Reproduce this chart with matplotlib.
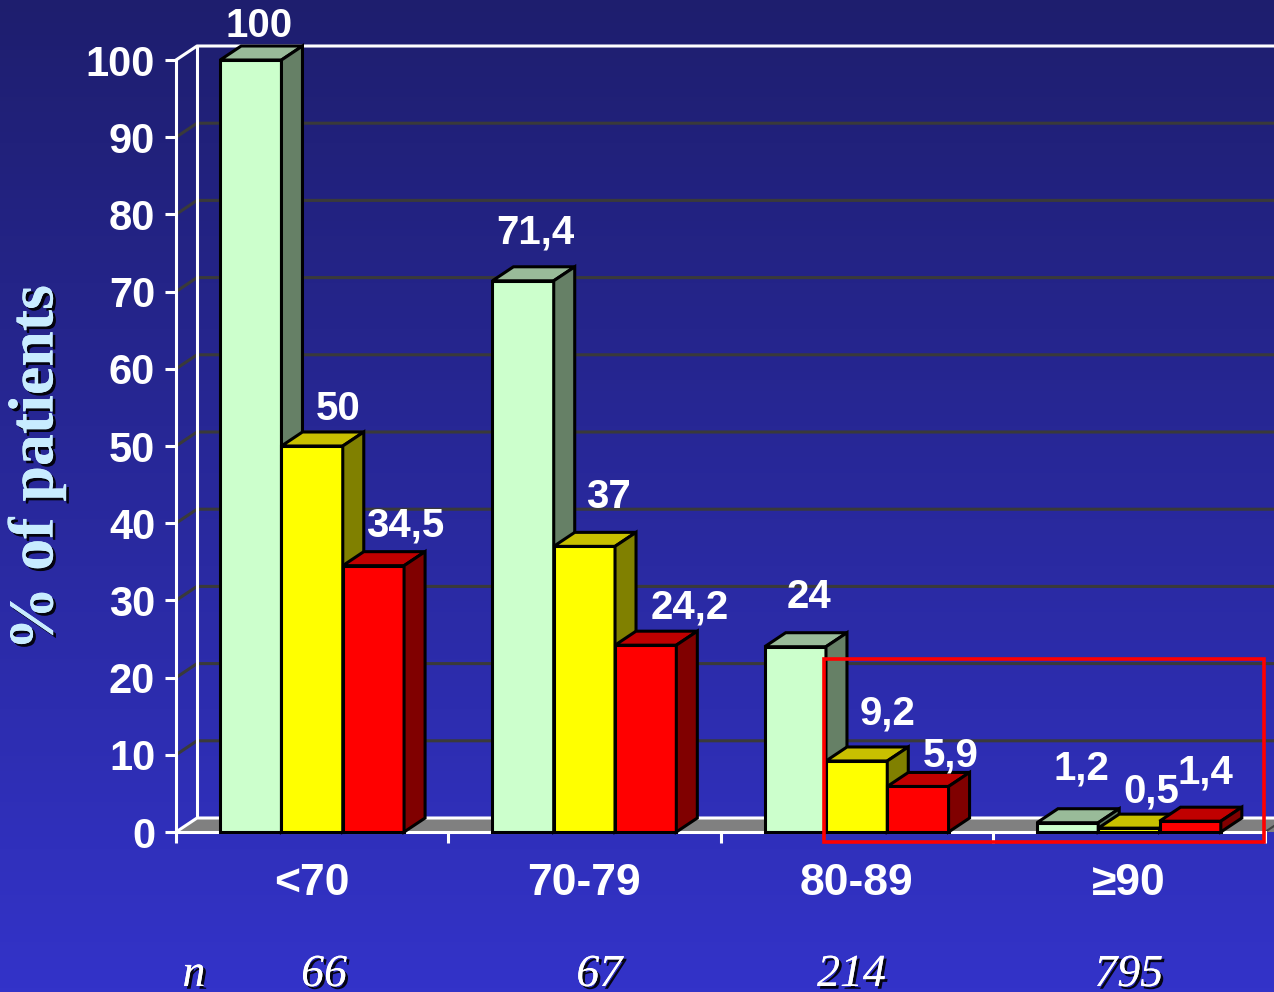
import numpy as np
import matplotlib.pyplot as plt
import matplotlib.patheffects as pe
from matplotlib.patches import Polygon, Rectangle

# age groups and the three series (% of patients)
groups = ['<70', '70-79', '80-89', '≥90']
n_patients = ['66', '67', '214', '795']
green_vals = [100, 71.4, 24, 1.2]
yellow_vals = [50, 37, 9.2, 0.5]
red_vals = [34.5, 24.2, 5.9, 1.4]
y_ticks = [0, 10, 20, 30, 40, 50, 60, 70, 80, 90, 100]

# label nudges in pixels (dx, dy) from the front top centre of each bar
label_shift = [
    [(8, 23), (12, 37), (14, 39), (14, 43)],
    [(26, 26), (24, 38), (31, 36), (22, 26)],
    [(32, 29), (44, 27), (33, 20), (15, 38)],
]
n_shift = [12, 15, -5, 0]

W, H = 1274, 992
fig = plt.figure(figsize=(W / 100, H / 100), dpi=100)

# dark-to-bright blue background
bg = fig.add_axes([0, 0, 1, 1], zorder=0)
top = np.array([30, 30, 110]) / 255
bot = np.array([51, 51, 201]) / 255
t = np.linspace(0, 1, 256)[:, None]
grad = (top * (1 - t) + bot * t)[:, None, :]
bg.imshow(grad, aspect='auto', extent=[0, 1, 0, 1])
bg.axis('off')

ax = fig.add_axes([176 / W, 160 / H, 1089 / W, 772 / H], zorder=1)
ax.patch.set_visible(False)
ax.set_xlim(0, 4)
ax.set_ylim(0, 100)

# 3d depth, in data units
px_x = 1089 / 4
px_y = 772 / 100
DX = 21 / px_x
DY = 14 / px_y
xr = 4.2

# back wall gridlines with the diagonal on the side wall
for v in y_ticks[1:-1]:
    ax.plot([0, DX, xr], [v, v + DY, v + DY], color='#3a3a3a', lw=2.2,
            clip_on=False, zorder=1, solid_capstyle='butt')
ax.plot([0, DX, xr], [100, 100 + DY, 100 + DY], color='white', lw=2.2,
        clip_on=False, zorder=1)
ax.plot([DX, DX], [DY, 100 + DY], color='white', lw=2.2, clip_on=False, zorder=1)

# floor
ax.add_patch(Polygon([(0, 0), (DX, DY), (xr, DY), (xr, 0)], closed=True,
                     facecolor='#808080', edgecolor='none', clip_on=False, zorder=1))
ax.plot([0, DX, xr], [0, DY, DY], color='white', lw=2.2, clip_on=False, zorder=1)
ax.plot([4, 4 + DX], [0, DY], color='#404040', lw=1.5, clip_on=False, zorder=1)

# bars
bw = 61.3 / px_x
gap = (1 - 3 * bw) / 2
series = [
    (green_vals, '#ccffcc', '#99bb99', '#668066'),
    (yellow_vals, '#ffff00', '#c8c000', '#808000'),
    (red_vals, '#ff0000', '#c00000', '#800000'),
]
for g in range(len(groups)):
    for k, (vals, front, topc, side) in enumerate(series):
        v = vals[g]
        x0 = g + gap + k * bw
        x1 = x0 + bw
        kw = dict(edgecolor='black', lw=2.2, joinstyle='miter', clip_on=False, zorder=3)
        ax.add_patch(Rectangle((x0, 0), bw, v, facecolor=front, **kw))
        ax.add_patch(Polygon([(x0, v), (x0 + DX, v + DY), (x1 + DX, v + DY), (x1, v)],
                             closed=True, facecolor=topc, **kw))
        ax.add_patch(Polygon([(x1, 0), (x1 + DX, DY), (x1 + DX, v + DY), (x1, v)],
                             closed=True, facecolor=side, **kw))
        txt = f'{v:g}'.replace('.', ',')
        ax.annotate(txt, xy=(x0 + bw / 2, v), xytext=label_shift[k][g],
                    textcoords='offset pixels', ha='center', va='baseline',
                    color='white', fontsize=29, fontweight='bold',
                    family='Liberation Sans', zorder=5, annotation_clip=False)

# highlight box around the two oldest groups
ax.add_patch(Rectangle((2.38, -1.3), 1.616, 23.7, fill=False, edgecolor='#ff0000',
                       lw=2.6, clip_on=False, zorder=6))

# axes
for s in ['top', 'right']:
    ax.spines[s].set_visible(False)
for s in ['left', 'bottom']:
    ax.spines[s].set_color('white')
    ax.spines[s].set_linewidth(2.2)
    ax.spines[s].set_zorder(2)
ax.set_yticks(y_ticks)
ax.set_yticklabels([str(v) for v in y_ticks])
ax.tick_params(axis='y', colors='white', length=8, width=2.2, pad=7,
               labelsize=30)
ax.set_xticks([0, 1, 2, 3, 4])
ax.set_xticklabels([])
ax.tick_params(axis='x', which='major', colors='white', length=8, width=2.2)
ax.set_xticks([0.5, 1.5, 2.5, 3.5], minor=True)
ax.set_xticklabels(groups, minor=True)
ax.tick_params(axis='x', which='minor', length=0, pad=22, labelsize=32,
               labelcolor='white')
for lab in ax.get_xticklabels(minor=True) + ax.get_yticklabels():
    lab.set_fontweight('bold')
    lab.set_family('Liberation Sans')

shadow = [pe.withSimplePatchShadow(offset=(2, -2), shadow_rgbFace='black', alpha=0.9),
          pe.Normal()]

fig.text(37 / W, 1 - 468 / H, '% of patients', rotation=90, ha='center', va='center',
         family='Liberation Serif', fontweight='bold', fontsize=46, color='#c8ecff',
         path_effects=shadow)

# patient counts under each group
ax.annotate('n', xy=(18 / px_x, 6), xycoords=('data', 'figure pixels'),
            ha='center', va='baseline', family='Liberation Serif', style='italic',
            fontsize=33, color='white', path_effects=shadow, annotation_clip=False)
for g, n in enumerate(n_patients):
    ax.annotate(n, xy=(g + 0.5, 6), xycoords=('data', 'figure pixels'),
                xytext=(n_shift[g], 0), textcoords='offset pixels',
                ha='center', va='baseline', family='Liberation Serif', style='italic',
                fontsize=33, color='white', path_effects=shadow, annotation_clip=False)

fig.savefig('out.png', dpi=100)
